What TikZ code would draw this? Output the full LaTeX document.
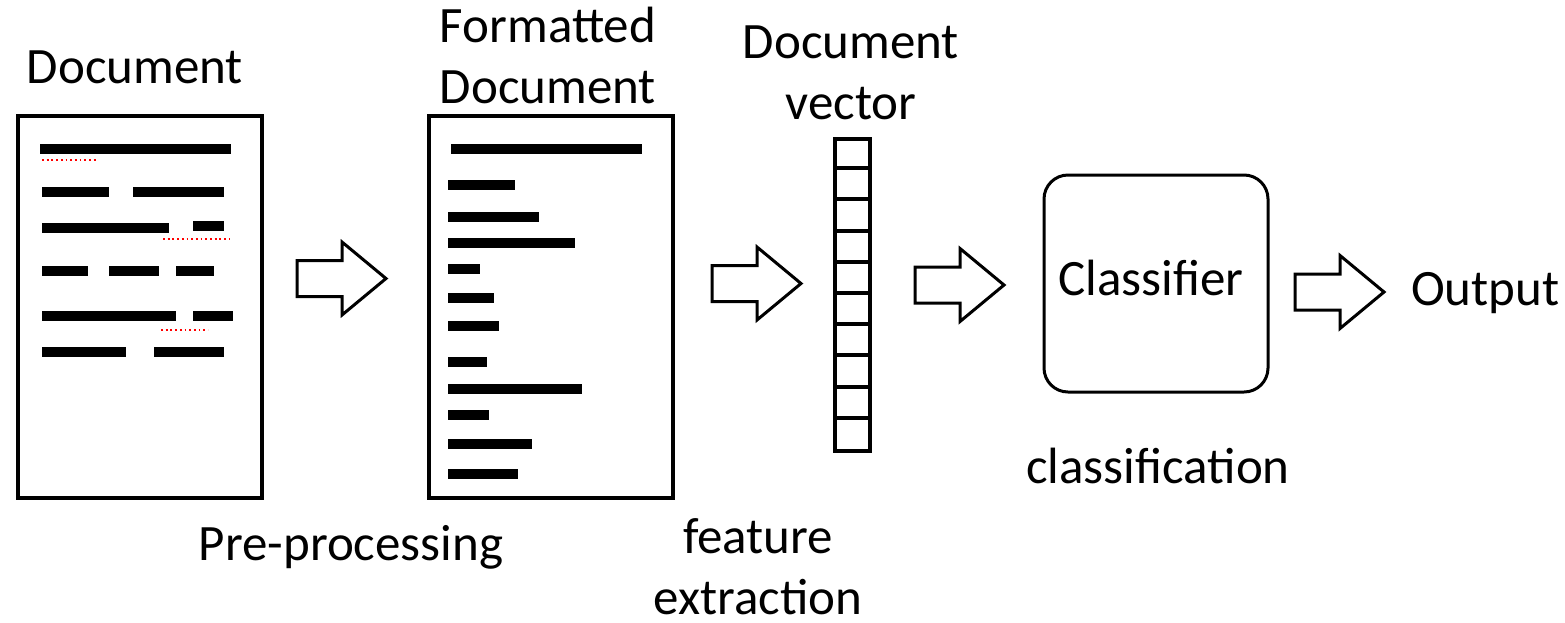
\documentclass[tikz,border=0pt]{standalone}
\usepackage{fontspec}
\setmainfont{Carlito}
\begin{document}
\begin{tikzpicture}[x=1pt,y=-1pt,
  label/.style={inner sep=0pt,font=\fontsize{51}{61}\selectfont,align=center},
  page/.style={draw,line width=4pt,inner sep=0pt},
  bar/.style={fill=black},
  typo/.style={draw=red,line width=1.6pt,dash pattern=on 1.8pt off 2.9pt},
  arrowline/.style={draw,line width=3pt,fill=white,line join=miter},
  blockarr/.pic={\path[arrowline] (0,-18) -- (45,-18) -- (45,-36.5) -- (89,0)
      -- (45,36.5) -- (45,18) -- (0,18) -- cycle;}
]
\useasboundingbox (0,0) rectangle (1565,622);
\fill[white] (0,0) rectangle (1565,622);

% ---- raw document ----
\node[page,minimum width=244pt,minimum height=382pt] (doc) at (140,307) {};
\node[label,anchor=base] (doclbl) at (135,83) {Document};
\foreach \xa/\xb/\ya in {40/231/144, 42/109/187, 133/224/187,
    42/169/223, 193/224/221, 42/88/266, 109/159/266, 176/214/266,
    42/176/311, 193/233/311, 42/126/347, 154/224/347}
  \fill[bar] (\xa,\ya) rectangle (\xb,\ya+9.5);
\draw[typo] (42,160) -- (98,160);
\draw[typo] (163,239) -- (230,239);
\draw[typo] (161,330) -- (208,330);

% ---- formatted document ----
\node[page,minimum width=244pt,minimum height=382pt] (fdoc) at (551,307) {};
\node[label,anchor=base] (fdoclbl) at (548,103) {Formatted\\Document};
\foreach \xa/\xb/\ya in {451/642/144, 448/515/180, 448/539/212, 448/575/238,
    448/480/264, 448/494/293, 448/499/321, 448/487/357, 448/582/384,
    448/489/410, 448/532/439, 448/518/469}
  \fill[bar] (\xa,\ya) rectangle (\xb,\ya+9.5);

% ---- document vector ----
\node[draw,line width=4pt,inner sep=0pt,minimum width=35pt,minimum height=312pt] (vec) at (852.5,295) {};
\foreach \i in {1,...,9}
  \draw[line width=4pt] (vec.north west) ++(0,31.2*\i) -- ++(35,0);
\node[label,anchor=base] (veclbl) at (851,119) {Document\\vector};

% ---- classifier ----
\node[draw,line width=3pt,rounded corners=24pt,minimum width=224pt,minimum height=217pt,inner sep=0pt] (clf) at (1156,283.5) {};
\node[label,anchor=base] (clftxt) at (1151,295) {Classifier};
\node[label,anchor=base] (clflbl) at (1158,483) {classification};

% ---- output ----
\node[label,anchor=base west] (out) at (1411,305) {Output};

% ---- stage labels ----
\node[label,anchor=base] (prelbl) at (351,560) {Pre-processing};
\node[label,anchor=base] (featlbl) at (758,614) {feature\\extraction};

% ---- block arrows between stages ----
\pic (a1) at (297,278.5) {blockarr};
\pic (a2) at (712,283.5) {blockarr};
\pic (a3) at (915,285) {blockarr};
\pic (a4) at (1295,292) {blockarr};
\end{tikzpicture}
\end{document}
